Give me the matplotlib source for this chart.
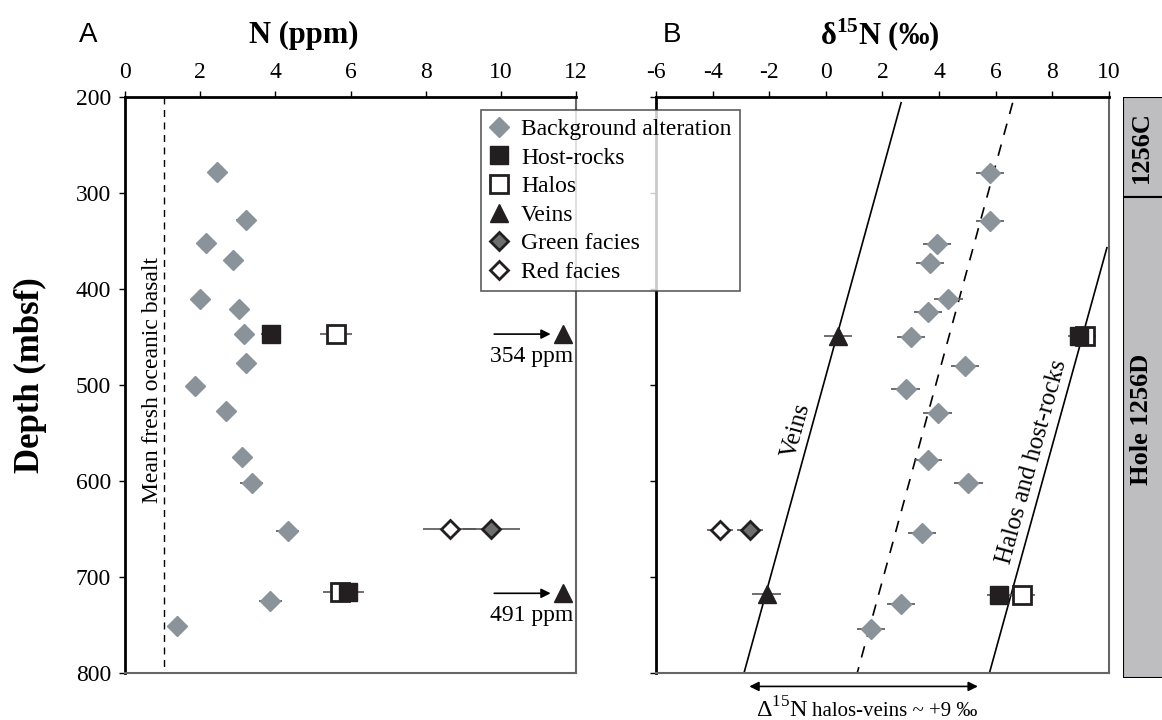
import math
import matplotlib
matplotlib.use("Agg")
import matplotlib.pyplot as plt
from matplotlib.lines import Line2D

plt.rcParams['font.family'] = ['Liberation Serif', 'DejaVu Serif']
plt.rcParams['mathtext.fontset'] = 'custom'
plt.rcParams['mathtext.rm'] = 'Liberation Serif'
plt.rcParams['mathtext.bf'] = 'Liberation Serif:bold'
plt.rcParams['axes.unicode_minus'] = False

# ---- panel A : N (ppm) ----
bg_depth_a = [278, 328, 352, 370, 410, 421, 447, 477, 501, 527, 575, 602, 652, 725, 751]
bg_n = [2.46, 3.21, 2.15, 2.86, 1.99, 3.02, 3.17, 3.22, 1.85, 2.70, 3.11, 3.37, 4.33, 3.87, 1.39]
bg_n_err = [0, 0.25, 0, 0, 0, 0.2, 0.2, 0.2, 0, 0, 0.2, 0.3, 0.3, 0.3, 0]

host_depth_a = [447, 716]
host_n = [3.88, 5.92]
host_n_err = [0.26, 0.44]
halo_depth_a = [447, 716]
halo_n = [5.61, 5.72]
halo_n_err = [0.42, 0.45]
vein_depth_a = [447, 717]
vein_n = [11.65, 11.65]          # off scale, true values below
vein_n_true = ["354 ppm", "491 ppm"]
green_depth_a = [650]
green_n = [9.75]
green_n_err = [0.75]
red_depth_a = [650]
red_n = [8.64]
red_n_err = [0.7]
fresh_basalt_n = 1.05

# ---- panel B : d15N (permil) ----
bg_depth_b = [279, 329, 353, 373, 410, 424, 450, 480, 504, 529, 578, 602, 654, 728, 754]
bg_d15 = [5.80, 5.80, 3.92, 3.68, 4.33, 3.60, 3.00, 4.92, 2.82, 3.95, 3.62, 5.04, 3.39, 2.66, 1.60]
bg_d15_err = [0.5] * 15

host_depth_b = [449, 719]
host_d15 = [8.95, 6.13]
halo_depth_b = [449, 719]
halo_d15 = [9.16, 6.94]
hh_err = [0.4, 0.45]
vein_depth_b = [449, 718]
vein_d15 = [0.44, -2.09]
vein_d15_err = [0.5, 0.5]
green_depth_b = [651]
green_d15 = [-2.68]
red_depth_b = [651]
red_d15 = [-3.74]
facies_err = [0.45]

# trend lines: (d15N values, depths)
veins_line = ([2.66, -2.89], [206, 800])
mid_line = ([6.60, 1.11], [206, 800])
halos_line = ([9.93, 5.78], [357, 800])

# holes
hole_names = ['1256C', 'Hole 1256D']
hole_top = [200, 304]
hole_bot = [304, 805]
hole_label_depth = [252, 536]

BG = '#8a929a'
ERR = '#555555'

fig = plt.figure(figsize=(11.62, 7.2), dpi=100)
ax_a = fig.add_axes([0.1076, 0.0653, 0.3881, 0.8])
ax_b = fig.add_axes([0.5645, 0.0653, 0.3898, 0.8])


def style_axes(ax, xlim, xticks):
    ax.set_xlim(*xlim)
    ax.set_ylim(800, 200)
    ax.set_xticks(xticks)
    ax.set_yticks(range(200, 801, 100))
    ax.xaxis.tick_top()
    ax.tick_params(axis='both', direction='out', length=4, width=1,
                   labelsize=17, pad=6)
    for s in ['left', 'top']:
        ax.spines[s].set_linewidth(2)
        ax.spines[s].set_color('black')
    for s in ['right', 'bottom']:
        ax.spines[s].set_linewidth(1.5)
        ax.spines[s].set_color('#666666')


style_axes(ax_a, (0, 12), range(0, 13, 2))
style_axes(ax_b, (-6, 10), range(-6, 11, 2))
ax_b.set_yticklabels([])


def pts(ax, x, y, xerr, **kw):
    ax.errorbar(x, y, xerr=xerr, fmt='none', ecolor=ERR, elinewidth=1.2, capsize=0, zorder=2)
    ax.plot(x, y, linestyle='none', zorder=3, **kw)


bg_kw = dict(marker='D', ms=10, color=BG, mec=BG)
host_kw = dict(marker='s', ms=13, color='#231f20', mec='#231f20')
halo_kw = dict(marker='s', ms=12.5, mfc='white', mec='#231f20', mew=2)
vein_kw = dict(marker='^', ms=12.5, color='#231f20', mec='#231f20')
green_kw = dict(marker='D', ms=9.5, mfc='#6d6e70', mec='#231f20', mew=2)
red_kw = dict(marker='D', ms=9.5, mfc='white', mec='#231f20', mew=2)

# panel A
ax_a.plot([fresh_basalt_n, fresh_basalt_n], [200, 795], color='black', lw=1, ls=(0, (5, 4)))
ax_a.text(fresh_basalt_n - 0.33, 495, 'Mean fresh oceanic basalt', rotation=90,
          ha='center', va='center', fontsize=17)
pts(ax_a, bg_n, bg_depth_a, bg_n_err, **bg_kw)
pts(ax_a, halo_n, halo_depth_a, halo_n_err, **halo_kw)
pts(ax_a, host_n, host_depth_a, host_n_err, **host_kw)
ax_a.plot(vein_n, vein_depth_a, linestyle='none', zorder=3, clip_on=False, **vein_kw)
pts(ax_a, red_n, red_depth_a, red_n_err, **red_kw)
pts(ax_a, green_n, green_depth_a, green_n_err, **green_kw)
for d, lab in zip(vein_depth_a, vein_n_true):
    ax_a.annotate('', xy=(11.4, d), xytext=(9.75, d),
                  arrowprops=dict(arrowstyle='-|>', color='black', lw=1.2, mutation_scale=14))
    ax_a.text(10.82, d + 12, lab, ha='center', va='top', fontsize=17)

# panel B
ax_b.plot(*veins_line, color='black', lw=1.2)
ax_b.plot(*mid_line, color='black', lw=1.2, ls=(0, (7, 6)))
ax_b.plot(*halos_line, color='black', lw=1.2)
fig.canvas.draw()
p0 = ax_b.transData.transform((veins_line[0][0], veins_line[1][0]))
p1 = ax_b.transData.transform((veins_line[0][1], veins_line[1][1]))
ang = math.degrees(math.atan2(p0[1] - p1[1], p0[0] - p1[0]))
ax_b.text(-1.05, 547, 'Veins', rotation=ang, ha='center', va='center', fontsize=18)
ax_b.text(7.3, 580, 'Halos and host-rocks', rotation=ang, ha='center', va='center', fontsize=18)

pts(ax_b, bg_d15, bg_depth_b, bg_d15_err, **bg_kw)
pts(ax_b, halo_d15, halo_depth_b, hh_err, **halo_kw)
pts(ax_b, host_d15, host_depth_b, hh_err, **host_kw)
pts(ax_b, vein_d15, vein_depth_b, vein_d15_err, **vein_kw)
pts(ax_b, red_d15, red_depth_b, facies_err, **red_kw)
pts(ax_b, green_d15, green_depth_b, facies_err, **green_kw)

ax_b.annotate('', xy=(-2.8, 814), xytext=(5.47, 814), annotation_clip=False,
              arrowprops=dict(arrowstyle='<|-|>', color='black', lw=1.2, mutation_scale=14))
ax_b.text(-0.63, 838, r'$\Delta^{15}$N', ha='right', va='center', fontsize=17.5, clip_on=False)
ax_b.text(-0.47, 840, 'halos-veins ~ +9 ‰', ha='left', va='center', fontsize=15, clip_on=False)

# hole bar
ax_h = fig.add_axes([1123 / 1162, 0.0583, 0.06, 0.8070])
ax_h.set_ylim(805, 200)
ax_h.set_xlim(0, 1)
ax_h.axis('off')
for name, t, b, ld in zip(hole_names, hole_top, hole_bot, hole_label_depth):
    ax_h.bar(0, b - t, bottom=t, width=1, align='edge', color='#bebec0',
             edgecolor='black', lw=1.5)
    ax_h.text(0.27, ld, name, rotation=90,
              ha='center', va='center', fontsize=19, fontweight='bold')

# labels
fig.text(0.0757, 0.951, 'A', family='Liberation Sans', fontsize=20, ha='center', va='center')
fig.text(0.578, 0.951, 'B', family='Liberation Sans', fontsize=20, ha='center', va='center')
fig.text(0.261, 0.951, 'N (ppm)', fontsize=22, fontweight='bold', ha='center', va='center')
fig.text(0.757, 0.951, r'δ$^{\mathbf{15}}$N (‰)', fontsize=22, fontweight='bold',
         ha='center', va='center')
fig.text(0.026, 0.479, 'Depth (mbsf)', fontsize=25, fontweight='bold', rotation=90,
         ha='center', va='center')

handles = [
    Line2D([], [], linestyle='none', **bg_kw),
    Line2D([], [], linestyle='none', **host_kw),
    Line2D([], [], linestyle='none', **halo_kw),
    Line2D([], [], linestyle='none', **vein_kw),
    Line2D([], [], linestyle='none', **green_kw),
    Line2D([], [], linestyle='none', **red_kw),
]
labels = ['Background alteration', 'Host-rocks', 'Halos', 'Veins', 'Green facies', 'Red facies']
leg = fig.legend(handles, labels, loc='upper left', bbox_to_anchor=(0.414, 0.847),
                 fontsize=17, frameon=True, fancybox=False, edgecolor='#333333',
                 handlelength=0.8, handletextpad=0.55, borderpad=0.35, labelspacing=0.3,
                 borderaxespad=0)
leg.get_frame().set_linewidth(1.2)

fig.savefig('out.png', dpi=100)
